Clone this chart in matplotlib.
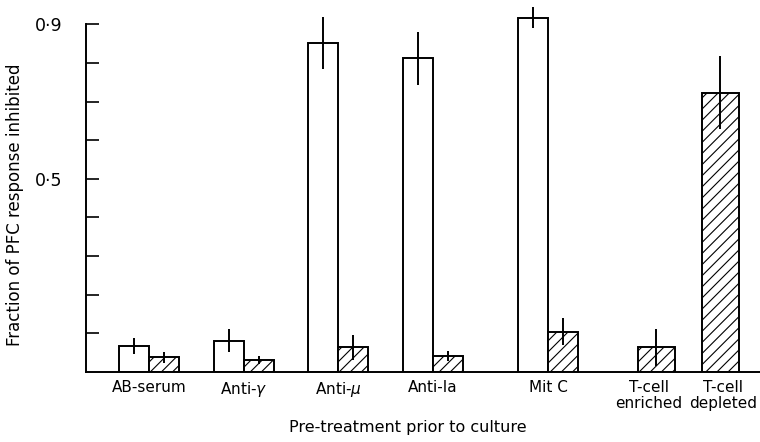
import matplotlib.pyplot as plt
import numpy as np

# valores
grupos = ["AB-serum", r"Anti-$\gamma$", r"Anti-$\mu$", "Anti-Ia", "Mit C"]
abiertas = [0.067, 0.080, 0.852, 0.812, 0.918]
abiertas_err = [0.021, 0.030, 0.068, 0.068, 0.028]
rayadas = [0.037, 0.030, 0.063, 0.041, 0.104]
rayadas_err = [0.015, 0.011, 0.032, 0.013, 0.034]

tcel_labels = ["T-cell\nenriched", "T-cell\ndepleted"]
tcel = [0.063, 0.723]
tcel_err = [0.048, 0.094]

# posiciones (layout, en pixeles desde el eje)
centros = [63, 158, 252, 347, 462]
centros_t = [570, 634]
etiq_t = [563, 637]
ancho = 30
ancho_t = 37

plt.rcParams['hatch.linewidth'] = 0.8

fig = plt.figure(figsize=(7.6, 4.42), dpi=100)
ax = fig.add_axes([86 / 760, 1 - 371.7 / 442, 1 - 86 / 760, 371.7 / 442 - 0.003])

c = np.array(centros)
ax.bar(c - ancho / 2, abiertas, ancho, color="white", edgecolor="black", linewidth=1.4)
ax.bar(c + ancho / 2, rayadas, ancho, color="white", edgecolor="black", linewidth=1.4, hatch="///")
ax.bar(centros_t, tcel, ancho_t, color="white", edgecolor="black", linewidth=1.4, hatch="///")

ax.errorbar(c - ancho / 2, abiertas, yerr=abiertas_err, fmt="none", ecolor="black", elinewidth=1.4, capsize=0)
ax.errorbar(c + ancho / 2, rayadas, yerr=rayadas_err, fmt="none", ecolor="black", elinewidth=1.4, capsize=0)
ax.errorbar(centros_t, tcel, yerr=tcel_err, fmt="none", ecolor="black", elinewidth=1.4, capsize=0)

ax.set_xlim(0, 674)
ax.set_ylim(0, 0.96)

ax.spines['top'].set_visible(False)
ax.spines['right'].set_visible(False)
ax.spines['left'].set_bounds(0, 0.9)
ax.spines['left'].set_linewidth(1.4)
ax.spines['bottom'].set_linewidth(1.4)

ticks_y = np.arange(0.1, 0.91, 0.1)
ax.set_yticks(ticks_y)
ax.set_yticklabels(["0·5" if abs(v - 0.5) < 1e-6 else ("0·9" if abs(v - 0.9) < 1e-6 else "")
                    for v in ticks_y], fontsize=12.5)
ax.tick_params(axis="y", direction="in", length=9, width=1.2, pad=17)

ax.set_xticks(list(centros) + etiq_t)
ax.set_xticklabels(grupos + tcel_labels, fontsize=11, linespacing=1.05)
ax.tick_params(axis="x", length=0, pad=6)

ax.set_ylabel("Fraction of PFC response inhibited", fontsize=12, labelpad=8)
ax.yaxis.set_label_coords(-0.092, 0.45)
ax.set_xlabel("Pre-treatment prior to culture", fontsize=11.5, labelpad=18)
ax.xaxis.set_label_coords(0.478, -0.13)

fig.savefig("out.png", dpi=100)
